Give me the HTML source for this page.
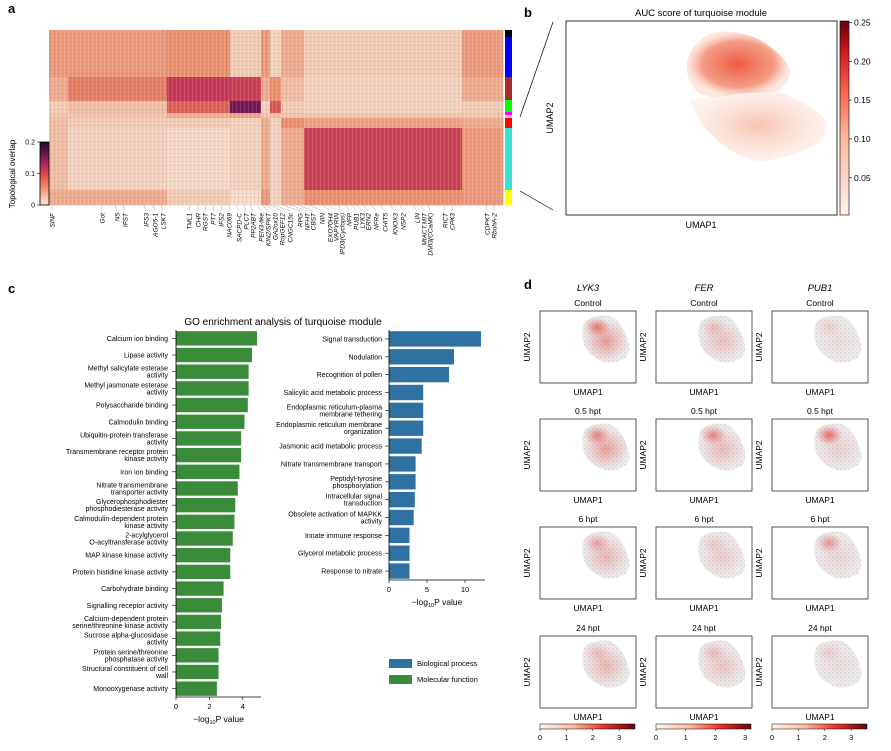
<!DOCTYPE html>
<html><head><meta charset="utf-8"><style>
body{margin:0;background:#fff;}
svg{display:block;font-family:"Liberation Sans",sans-serif;}
</style></head><body>
<svg id="s" width="891" height="751" viewBox="0 0 891 751" xmlns="http://www.w3.org/2000/svg">
<defs>
<linearGradient id="cbA" x1="0" y1="1" x2="0" y2="0">
<stop offset="0" stop-color="#fae6da"/><stop offset="0.2" stop-color="#f3a98a"/><stop offset="0.45" stop-color="#e55549"/><stop offset="0.65" stop-color="#b0245c"/><stop offset="0.85" stop-color="#561649"/><stop offset="1" stop-color="#1c0f1e"/>
</linearGradient>
<linearGradient id="cbB" x1="0" y1="1" x2="0" y2="0">
<stop offset="0" stop-color="#fff0ea"/><stop offset="0.4" stop-color="#fcb79d"/><stop offset="0.65" stop-color="#f5614a"/><stop offset="0.85" stop-color="#c9171d"/><stop offset="1" stop-color="#67000d"/>
</linearGradient>
<linearGradient id="cbD" x1="0" y1="0" x2="1" y2="0">
<stop offset="0" stop-color="#fff5ee"/><stop offset="0.35" stop-color="#fcbba1"/><stop offset="0.65" stop-color="#ef3b2c"/><stop offset="1" stop-color="#67000d"/>
</linearGradient>
<radialGradient id="redHot"><stop offset="0" stop-color="#e0281f" stop-opacity="0.9"/><stop offset="1" stop-color="#e8322a" stop-opacity="0"/></radialGradient>
<radialGradient id="pinkB"><stop offset="0" stop-color="#f6b9a4" stop-opacity="0.85"/><stop offset="1" stop-color="#fbd9cb" stop-opacity="0.35"/></radialGradient>
<radialGradient id="redB"><stop offset="0" stop-color="#ee5a42"/><stop offset="0.7" stop-color="#f28a70" stop-opacity="0.85"/><stop offset="1" stop-color="#f9c7b5" stop-opacity="0.4"/></radialGradient>
<pattern id="stripes" width="4" height="4" patternUnits="userSpaceOnUse"><rect width="1" height="4" fill="#fff" opacity="0.12"/><rect x="2" width="1" height="4" fill="#000" opacity="0.06"/><rect y="1" width="4" height="1" fill="#000" opacity="0.04"/></pattern>
<pattern id="dots" width="4" height="4" patternUnits="userSpaceOnUse"><circle cx="1" cy="1" r="0.7" fill="#c8c8cc"/><circle cx="3" cy="3" r="0.7" fill="#f2d6cc"/></pattern>
</defs>
</svg>
<script>
// ===== Panel a data =====
const colBlocks=[19,99,63,31,9,11,23,158,41];
const rowBlocks=[47,24,12,5,10,62,15];
const overlapValues=[
[0.055,0.055,0.06,0.025,0.055,0.02,0.045,0.025,0.055],
[0.045,0.07,0.115,0.11,0.045,0.06,0.035,0.018,0.045],
[0.025,0.035,0.085,0.16,0.02,0.09,0.025,0.018,0.025],
[0.03,0.03,0.045,0.05,0.03,0.035,0.03,0.03,0.03],
[0.035,0.025,0.025,0.02,0.045,0.02,0.06,0.05,0.045],
[0.035,0.018,0.012,0.018,0.045,0.018,0.045,0.108,0.055],
[0.045,0.045,0.025,0.01,0.055,0.018,0.045,0.06,0.055]];
const moduleColors=['#000000','#0000ff','#a52a2a','#00ff00','#ff00ff','#ffc0cb','#ff0000','#40e0d0','#ffff00'];
const moduleSizes=[7,40,23,12,3,3,10,62,15];
const geneNames=['SlNF','Got','N5','IFST','IFS3','AGO5-1','LSKT','TML1','CHR','RGST','PT7','IFS2','NAC069','SACPD-C','PLCT','PP2ABT','PEN3-like','KIN2/SPKT','GA2ox10','RopGEF12','CNGC15c','RPG','NFHT','CBST','NIN','EXO70H4','VAPYRIN','IPD3(Cyclops)','NFP','PUB1','LYK3','ERN2','NFRe','CHIT5','KNOX3','NSP2','LIN','MtACT.MIT','DMI3(CCaMK)','RICT','CPK3','CDPKT','RbohA-2'];
const genePos=[52,102,117,125,146,155,163,189,198,205,213,221,229,239,246,253,261,268,275,282,290,300,307,313,322,330,336,342,349,356,362,368,376,385,395,403,417,424,430,445,452,487,494];
const geneAnchor=[52,102,115,123,144,153,161,190,198,206,214,222,230,236,244,250,257,262,266,270,274,283,290,298,310,323,330,338,346,352,357,363,371,380,390,400,413,420,428,444,452,486,494];
const cbATicks=[0,0.1,0.2];
// ===== Panel b data =====
const aucTicks=[0.05,0.10,0.15,0.20,0.25];
// ===== Panel c data =====
const mfTerms=['Calcium ion binding','Lipase activity','Methyl salicylate esterase\nactivity','Methyl jasmonate esterase\nactivity','Polysaccharide binding','Calmodulin binding','Ubiquitin-protein transferase\nactivity','Transmembrane receptor protein\nkinase activity','Iron ion binding','Nitrate transmembrane\ntransporter activity','Glycerophosphodiester\nphosphodiesterase activity','Calmodulin-dependent protein\nkinase activity','2-acylglycerol\nO-acyltransferase activity','MAP kinase kinase activity','Protein histidine kinase activity','Carbohydrate binding','Signalling receptor activity','Calcium-dependent protein\nserine/threonine kinase activity','Sucrose alpha-glucosidase\nactivity','Protein serine/threonine\nphosphatase activity','Structural constituent of cell\nwall','Monooxygenase activity'];
const mfValues=[4.85,4.55,4.35,4.35,4.3,4.1,3.9,3.9,3.8,3.7,3.55,3.5,3.4,3.25,3.25,2.85,2.75,2.7,2.65,2.55,2.55,2.45];
const mfTicks=[0,2,4];
const bpTerms=['Signal transduction','Nodulation','Recognition of pollen','Salicylic acid metabolic process','Endoplasmic reticulum-plasma\nmembrane tethering','Endoplasmic reticulum membrane\norganization','Jasmonic acid metabolic process','Nitrate transmembrane transport','Peptidyl-tyrosine\nphosphorylation','Intracellular signal\ntransduction','Obsolete activation of MAPKK\nactivity','Innate immune response','Glycerol metabolic process','Response to nitrate'];
const bpValues=[12.1,8.55,7.9,4.5,4.5,4.5,4.3,3.5,3.5,3.4,3.25,2.7,2.7,2.7];
const bpTicks=[0,5,10];
// ===== Panel d data =====
const genesD=['LYK3','FER','PUB1'];
const timepoints=['Control','0.5 hpt','6 hpt','24 hpt'];
const exprLevel=[[0.9,0.5,0.15],[0.85,0.55,0.3],[0.6,0.35,0.25],[0.6,0.45,0.15]];
const exprTop=[[0.8,0.3,0.2],[0.7,0.7,0.9],[0.5,0.2,0.6],[0.3,0.3,0.2]];
const dTicks=[0,1,2,3];

const S=document.getElementById('s');
const NS='http://www.w3.org/2000/svg';
function mk(tag,attrs,parent,txt){const e=document.createElementNS(NS,tag);for(const k in attrs)e.setAttribute(k,attrs[k]);if(txt!==undefined)e.textContent=txt;(parent||S).appendChild(e);return e;}
function grp(name){const g=mk('g',{});return g;}

const cmStops=[[0,[250,230,218]],[0.03,[246,200,175]],[0.06,[239,145,112]],[0.09,[224,88,82]],[0.12,[196,50,88]],[0.15,[140,29,95]],[0.18,[74,19,70]],[0.2,[28,15,30]]];
function cmap(v){for(let i=1;i<cmStops.length;i++){if(v<=cmStops[i][0]){const a=cmStops[i-1],b=cmStops[i];const t=(v-a[0])/(b[0]-a[0]);const c=a[1].map((x,j)=>Math.round(x+(b[1][j]-x)*t));return `rgb(${c})`;}}return 'rgb(28,15,30)';}

// ===== Panel a =====
mk('text',{x:8,y:13,'font-size':13,'font-weight':'bold'},S,'a');
const ga=grp('overlap-heatmap');
const hx0=49,hy0=30;
const totC=colBlocks.reduce((a,b)=>a+b,0),totR=rowBlocks.reduce((a,b)=>a+b,0);
const hW=454,hH=175;
const xs=u=>hx0+u*hW/totC, ys=u=>hy0+u*hH/totR;
let ry=0;
rowBlocks.forEach((rb,i)=>{let cx=0;colBlocks.forEach((cb,j)=>{const r=mk('rect',{x:xs(cx),y:ys(ry),width:xs(cx+cb)-xs(cx)+0.3,height:ys(ry+rb)-ys(ry)+0.3,fill:cmap(overlapValues[i][j])},ga);cx+=cb;});ry+=rb;});
mk('rect',{x:hx0,y:hy0,width:hW,height:hH,fill:'url(#stripes)'},ga);
const gm=grp('module-color-bar');
const totM=moduleSizes.reduce((a,b)=>a+b,0);let mc=0;
moduleSizes.forEach((m,i)=>{const r=mk('rect',{x:505,y:30+mc*175/totM,width:7,height:m*175/totM+0.2,fill:moduleColors[i]},gm);mc+=m;});
const gg=grp('gene-labels');
geneNames.forEach((n,i)=>{mk('line',{x1:geneAnchor[i],y1:205,x2:genePos[i],y2:211,stroke:'#aaa','stroke-width':0.5},gg);
const t=mk('text',{x:0,y:0,transform:`translate(${genePos[i]+2.5},213) rotate(-90)`,'font-size':6.5,'font-style':'italic','text-anchor':'end'},gg,n);});
const gca=grp('overlap-colorbar');
mk('rect',{x:40,y:142,width:9,height:63,fill:'url(#cbA)',stroke:'#000','stroke-width':0.8},gca);
cbATicks.forEach(v=>{const y=205-v/0.2*63;mk('line',{x1:37,y1:y,x2:40,y2:y,stroke:'#000','stroke-width':0.6},gca);mk('text',{x:35,y:y+2.5,'font-size':7,'text-anchor':'end'},gca,v===0?'0':v.toFixed(1));});
mk('text',{transform:'translate(15,174) rotate(-90)','font-size':8,'text-anchor':'middle'},gca,'Topological overlap');
mk('line',{x1:553,y1:22,x2:520,y2:117,stroke:'#000','stroke-width':0.7});
mk('line',{x1:520,y1:191,x2:553,y2:210,stroke:'#000','stroke-width':0.7});

// ===== Panel b =====
mk('text',{x:524,y:17,'font-size':13,'font-weight':'bold'},S,'b');
const gb=grp('auc-umap');
mk('text',{x:701,y:16,'font-size':9.5,'text-anchor':'middle'},gb,'AUC score of turquoise module');
mk('rect',{x:566,y:21,width:271,height:194,fill:'#fff',stroke:'#000','stroke-width':0.8},gb);
mk('path',{d:'M690,100 Q700,130 730,150 Q755,165 770,160 Q795,155 810,148 Q830,140 826,120 Q815,108 800,102 Q780,88 750,90 Q720,95 690,100Z',fill:'url(#pinkB)'},gb);
mk('path',{d:'M688,58 Q692,42 712,33 Q735,28 760,40 Q785,55 790,70 Q790,85 775,92 Q745,92 725,96 Q700,100 692,85 Q684,72 688,58Z',fill:'url(#redB)'},gb);
mk('text',{transform:'translate(553,118) rotate(-90)','font-size':9,'text-anchor':'middle'},gb,'UMAP2');
mk('text',{x:701,y:228,'font-size':9,'text-anchor':'middle'},gb,'UMAP1');
const gcb=grp('auc-colorbar');
mk('rect',{x:840,y:21,width:9,height:194,fill:'url(#cbB)',stroke:'#000','stroke-width':0.6},gcb);
aucTicks.forEach(v=>{const y=215-(v-0.002)/0.25*194;mk('line',{x1:849,y1:y,x2:852,y2:y,stroke:'#000','stroke-width':0.6},gcb);mk('text',{x:854,y:y+3,'font-size':8.5},gcb,v.toFixed(2));});

// ===== Panel c =====
mk('text',{x:8,y:293,'font-size':13,'font-weight':'bold'},S,'c');
mk('text',{x:283,y:325,'font-size':10,'text-anchor':'middle'},S,'GO enrichment analysis of  turquoise module');
function barChart(name,terms,vals,ticks,x0,scale,yTop,yBot,axisEnd,color,labelX){
 const g=grp(name);const n=terms.length;const step=(yBot-yTop)/n;const bh=step*0.86;
 const xsc=v=>x0+v*scale;
 terms.forEach((t,i)=>{const yc=yTop+step*i+step/2;
  const r=mk('rect',{x:xsc(0),y:yc-bh/2,width:xsc(vals[i])-xsc(0),height:bh,fill:color},g);
  mk('line',{x1:x0-4,y1:yc,x2:x0,y2:yc,stroke:'#000','stroke-width':0.6},g);
  const lines=t.split('\n');
  lines.forEach((l,k)=>{const tt=mk('text',{x:labelX,y:yc+2.5+(k-(lines.length-1)/2)*7,'font-size':7,'text-anchor':'end'},g,l);});
 });
 mk('line',{x1:x0,y1:yTop,x2:x0,y2:yBot,stroke:'#000','stroke-width':0.8},g);
 mk('line',{x1:x0,y1:yBot,x2:axisEnd,y2:yBot,stroke:'#000','stroke-width':0.8},g);
 ticks.forEach(v=>{mk('line',{x1:xsc(v),y1:yBot,x2:xsc(v),y2:yBot+3,stroke:'#000','stroke-width':0.6},g);mk('text',{x:xsc(v),y:yBot+12,'font-size':7.5,'text-anchor':'middle'},g,String(v));});
 const xl=mk('text',{x:(x0+axisEnd)/2,y:yBot+25,'font-size':8.5,'text-anchor':'middle'},g);
 mk('tspan',{},xl,'\u2212log');mk('tspan',{'font-size':5.5,dy:2},xl,'10');mk('tspan',{dy:-2},xl,'P value');
}
barChart('molecular-function-bars',mfTerms,mfValues,mfTicks,176,16.7,330,697,261,'#3a8c3a',168);
barChart('biological-process-bars',bpTerms,bpValues,bpTicks,389,7.6,330,580,485,'#2f71a0',382);
const gl=grp('legend');
mk('rect',{x:389,y:659,width:23,height:9,fill:'#2f71a0'},gl);
mk('text',{x:417,y:666,'font-size':7.5},gl,'Biological process');
mk('rect',{x:389,y:675,width:23,height:9,fill:'#3a8c3a'},gl);
mk('text',{x:417,y:682,'font-size':7.5},gl,'Molecular function');

// ===== Panel d =====
mk('text',{x:524,y:289,'font-size':13,'font-weight':'bold'},S,'d');
const colX=[540,656,772], rowY=[311,419,527,636], bw=96, bhh=72;
genesD.forEach((g,j)=>{mk('text',{x:colX[j]+bw/2,y:291,'font-size':9.5,'font-style':'italic','text-anchor':'middle'},S,g);});
timepoints.forEach((tp,i)=>{genesD.forEach((gname,j)=>{
 const x=colX[j],y=rowY[i];const g=grp('umap-'+gname+'-'+i);
 mk('text',{x:x+bw/2,y:y-5,'font-size':8.5,'text-anchor':'middle'},g,tp);
 mk('rect',{x:x,y:y,width:bw,height:bhh,fill:'#fff',stroke:'#444','stroke-width':0.9},g);
 const blob=`M${x+45},${y+10} Q${x+55},${y+3} ${x+70},${y+5} Q${x+82},${y+10} ${x+88},${y+30} Q${x+92},${y+40} ${x+85},${y+47} Q${x+70},${y+56} ${x+58},${y+48} Q${x+46},${y+42} ${x+43},${y+30} Q${x+41},${y+18} ${x+45},${y+10}Z`;
 mk('path',{d:blob,fill:'#ececee'},g);
 mk('path',{d:blob,fill:'url(#dots)'},g);
 const lv=exprLevel[i][j],tp2=exprTop[i][j];
 mk('ellipse',{cx:x+66,cy:y+30,rx:22,ry:20,fill:'url(#redHot)',opacity:lv*0.5},g);
 mk('ellipse',{cx:x+57,cy:y+16,rx:13,ry:10,fill:'url(#redHot)',opacity:tp2*0.8},g);
 mk('text',{transform:`translate(${x-10},${y+bhh/2}) rotate(-90)`,'font-size':8.5,'text-anchor':'middle'},g,'UMAP2');
 mk('text',{x:x+bw/2,y:y+bhh+12,'font-size':8.5,'text-anchor':'middle'},g,'UMAP1');
});});
genesD.forEach((gname,j)=>{const g=grp('expr-colorbar-'+gname);const x=colX[j];
 mk('rect',{x:x,y:724,width:95,height:5,fill:'url(#cbD)',stroke:'#000','stroke-width':0.5},g);
 const maxv=j===1?3.2:3.6;
 dTicks.forEach(v=>{const tx=x+v/maxv*95;mk('line',{x1:tx,y1:729,x2:tx,y2:731,stroke:'#000','stroke-width':0.5},g);mk('text',{x:tx,y:740,'font-size':7.5,'text-anchor':'middle'},g,String(v));});
});
</script>
</body></html>
